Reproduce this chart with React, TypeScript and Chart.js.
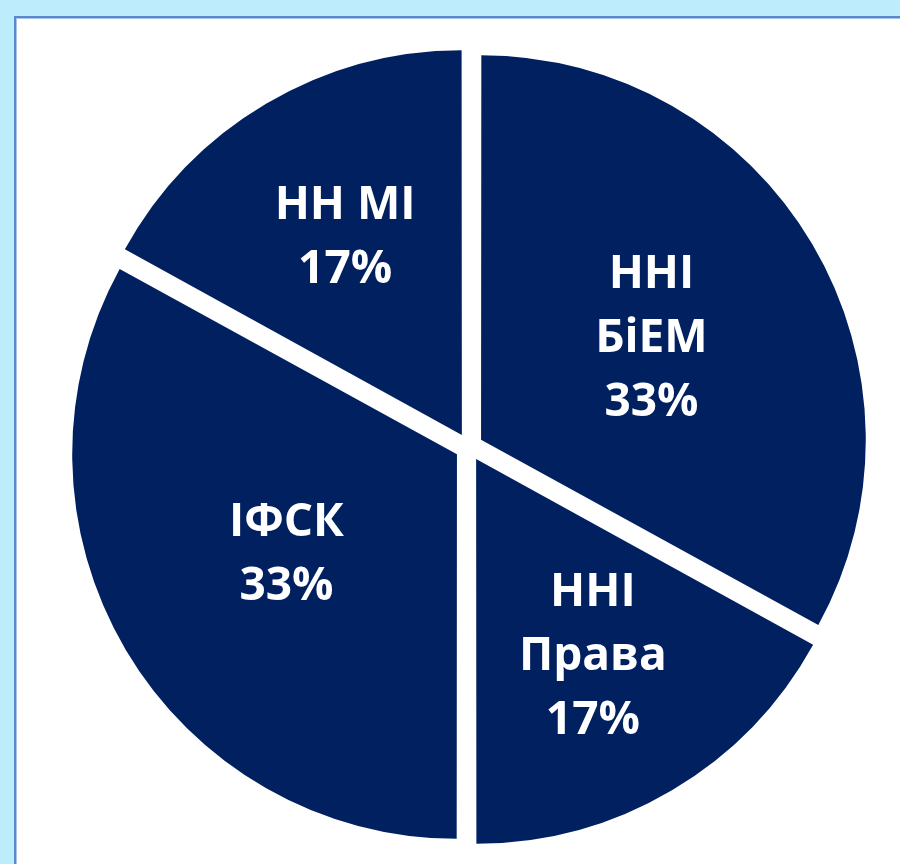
import React, { useEffect, useRef } from "react";
import { Chart, registerables } from "chart.js";

Chart.register(...registerables);

const categories = ["ННІ БіЕМ", "ННІ Права", "ІФСК", "НН МІ"];
const labelLines = [["ННІ", "БіЕМ", "33%"], ["ННІ", "Права", "17%"], ["ІФСК", "33%"], ["НН МІ", "17%"]];
const values = [33, 17, 33, 17];

const NAVY = "#002060";
const OFFSET = 56;

const labelPlugin = {
  id: "sliceLabels",
  afterDatasetsDraw(chart: any) {
    const meta = chart.getDatasetMeta(0);
    const ctx = chart.ctx;
    ctx.save();
    ctx.fillStyle = "#ffffff";
    ctx.font = "700 46px 'Open Sans'";
    ctx.textAlign = "center";
    ctx.textBaseline = "middle";
    const lh = 64;
    meta.data.forEach((arc: any, i: number) => {
      const p = arc.getProps(["x", "y", "startAngle", "endAngle", "outerRadius"], true);
      const mid = (p.startAngle + p.endAngle) / 2;
      const theta = p.endAngle - p.startAngle;
      // centroid of a circular sector
      const dist = (4 * p.outerRadius * Math.sin(theta / 2)) / (3 * theta);
      const cx = p.x + Math.cos(mid) * dist;
      const cy = p.y + Math.sin(mid) * dist;
      const lines = labelLines[i];
      const top = cy - ((lines.length - 1) * lh) / 2;
      lines.forEach((t, j) => ctx.fillText(t, cx, top + j * lh));
    });
    ctx.restore();
  },
};

export default function App() {
  const ref = useRef<HTMLCanvasElement>(null);
  useEffect(() => {
    if (!ref.current) return;
    const chart = new Chart(ref.current, {
      type: "pie",
      data: {
        labels: categories,
        datasets: [
          {
            data: values,
            backgroundColor: NAVY,
            borderWidth: 0,
            offset: OFFSET,
          },
        ],
      },
      options: {
        animation: false,
        responsive: false,
        maintainAspectRatio: false,
        layout: { padding: 0 },
        plugins: { legend: { display: false }, tooltip: { enabled: false } },
      },
      plugins: [labelPlugin],
    });
    return () => chart.destroy();
  }, []);

  return (
    <div
      style={{
        position: "fixed",
        left: 0,
        top: 0,
        width: 900,
        height: 864,
        background: "#bdedfd",
        overflow: "hidden",
      }}
    >
      <div
        style={{
          position: "absolute",
          left: 14,
          top: 16,
          width: 1000,
          height: 1000,
          background: "#ffffff",
          borderLeft: "2px solid #5a88cc",
          borderTop: "2px solid #5a88cc",
          boxShadow: "inset 1px 1px 0 #a9c2e8",
        }}
      />
      <canvas
        ref={ref}
        width={822}
        height={822}
        style={{ position: "absolute", left: 58, top: 36, width: 822, height: 822 }}
      />
    </div>
  );
}
